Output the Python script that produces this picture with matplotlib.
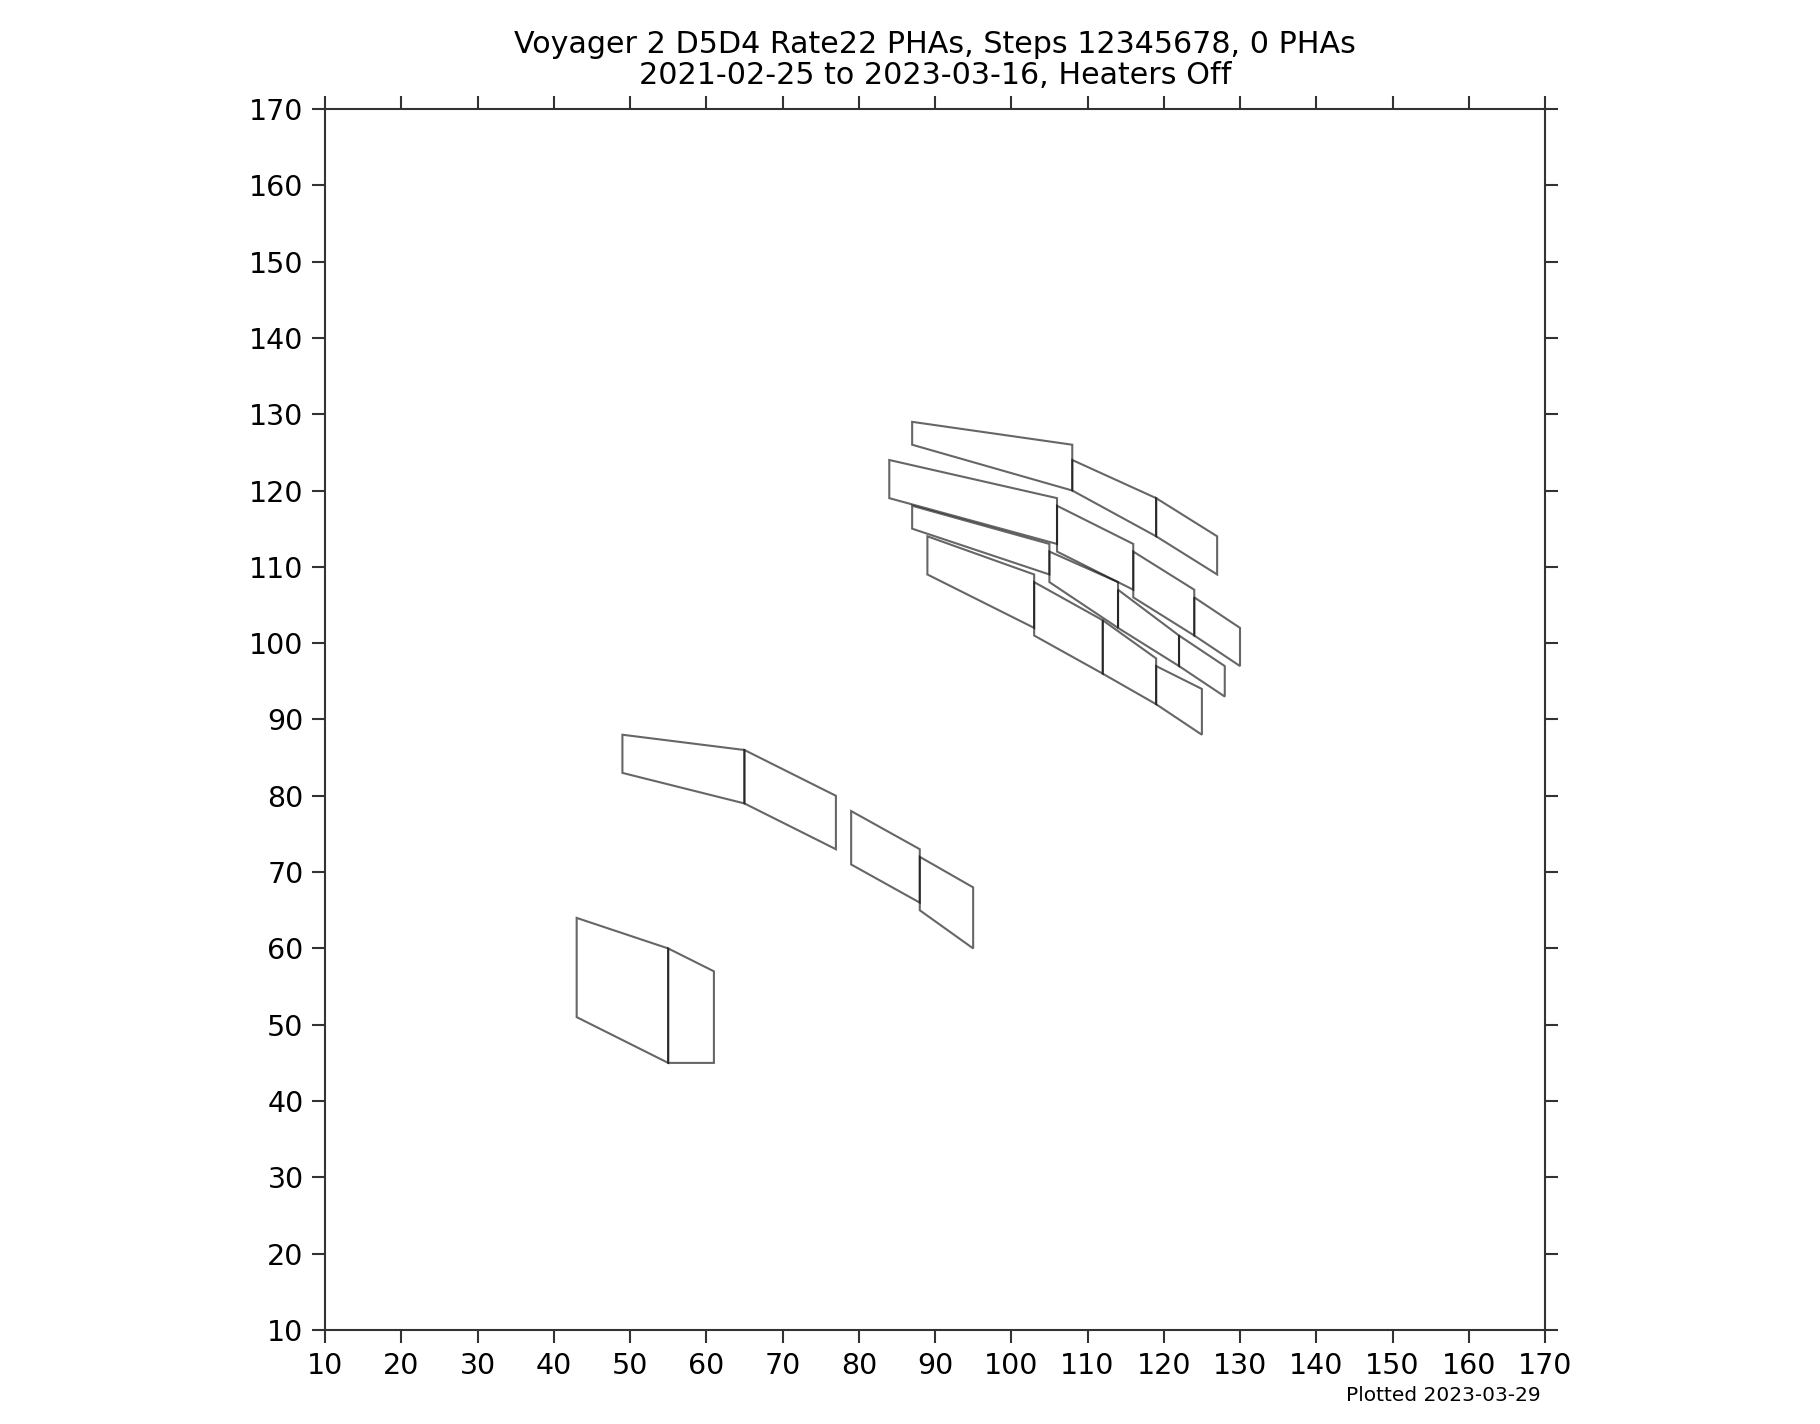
import matplotlib
matplotlib.use("Agg")
import matplotlib.pyplot as plt
from matplotlib.patches import Polygon

# PHA box outlines (x, y corner lists)
box_left_a = [(43, 64), (55, 60), (55, 45), (43, 51)]
box_left_b = [(55, 60), (61, 57), (61, 45), (55, 45)]
box_mid_a = [(49, 88), (65, 86), (65, 79), (49, 83)]
box_mid_b = [(65, 86), (77, 80), (77, 73), (65, 79)]
box_mid_c = [(79, 78), (88, 73), (88, 66), (79, 71)]
box_mid_d = [(88, 72), (95, 68), (95, 60), (88, 65)]

row_g = [
    [(87, 129), (108, 126), (108, 120), (87, 126)],
    [(108, 124), (119, 119), (119, 114), (108, 120)],
    [(119, 119), (127, 114), (127, 109), (119, 114)],
]
row_h = [
    [(84, 124), (106, 119), (106, 113), (84, 119)],
    [(106, 118), (116, 113), (116, 107), (106, 112)],
    [(116, 112), (124, 107), (124, 101), (116, 106)],
    [(124, 106), (130, 102), (130, 97), (124, 101)],
]
row_i = [
    [(87, 118), (105, 113), (105, 109), (87, 115)],
    [(105, 112), (114, 108), (114, 102), (105, 108)],
    [(114, 107), (122, 101), (122, 97), (114, 102)],
    [(122, 101), (128, 97), (128, 93), (122, 97)],
]
row_j = [
    [(89, 114), (103, 109), (103, 102), (89, 109)],
    [(103, 108), (112, 103), (112, 96), (103, 101)],
    [(112, 103), (119, 98), (119, 92), (112, 96)],
    [(119, 97), (125, 94), (125, 88), (119, 92)],
]

ticks = list(range(10, 171, 10))

boxes = [box_left_a, box_left_b, box_mid_a, box_mid_b, box_mid_c, box_mid_d]
boxes += row_g + row_h + row_i + row_j

fig = plt.figure(figsize=(18.2, 14.24), dpi=100)
ax = fig.add_axes([0.1786, 0.0660, 0.6703, 0.8575])

for b in boxes:
    ax.add_patch(Polygon(b, closed=True, fill=False, edgecolor="black",
                         alpha=0.6, linewidth=1.5))

ax.set_xlim(10, 170)
ax.set_ylim(10, 170)
ax.set_xticks(ticks)
ax.set_yticks(ticks)
ax.tick_params(axis="both", which="major", direction="out", length=9.5,
               width=1.5, color="#333333", labelsize=20.5, pad=6,
               top=True, right=True, labeltop=False, labelright=False)
for s in ax.spines.values():
    s.set_color("#333333")
    s.set_linewidth(1.5)

# ticks on both sides -> title is not shifted automatically, so pad by hand
ax.set_title("Voyager 2 D5D4 Rate22 PHAs, Steps 12345678, 0 PHAs\n"
             "2021-02-25 to 2023-03-16, Heaters Off", fontsize=21.7,
             linespacing=1.08, pad=18)
fig.text(0.8465, 0.016, "Plotted 2023-03-29", fontsize=14.5, ha="right")

fig.savefig("out.png", dpi=100)
